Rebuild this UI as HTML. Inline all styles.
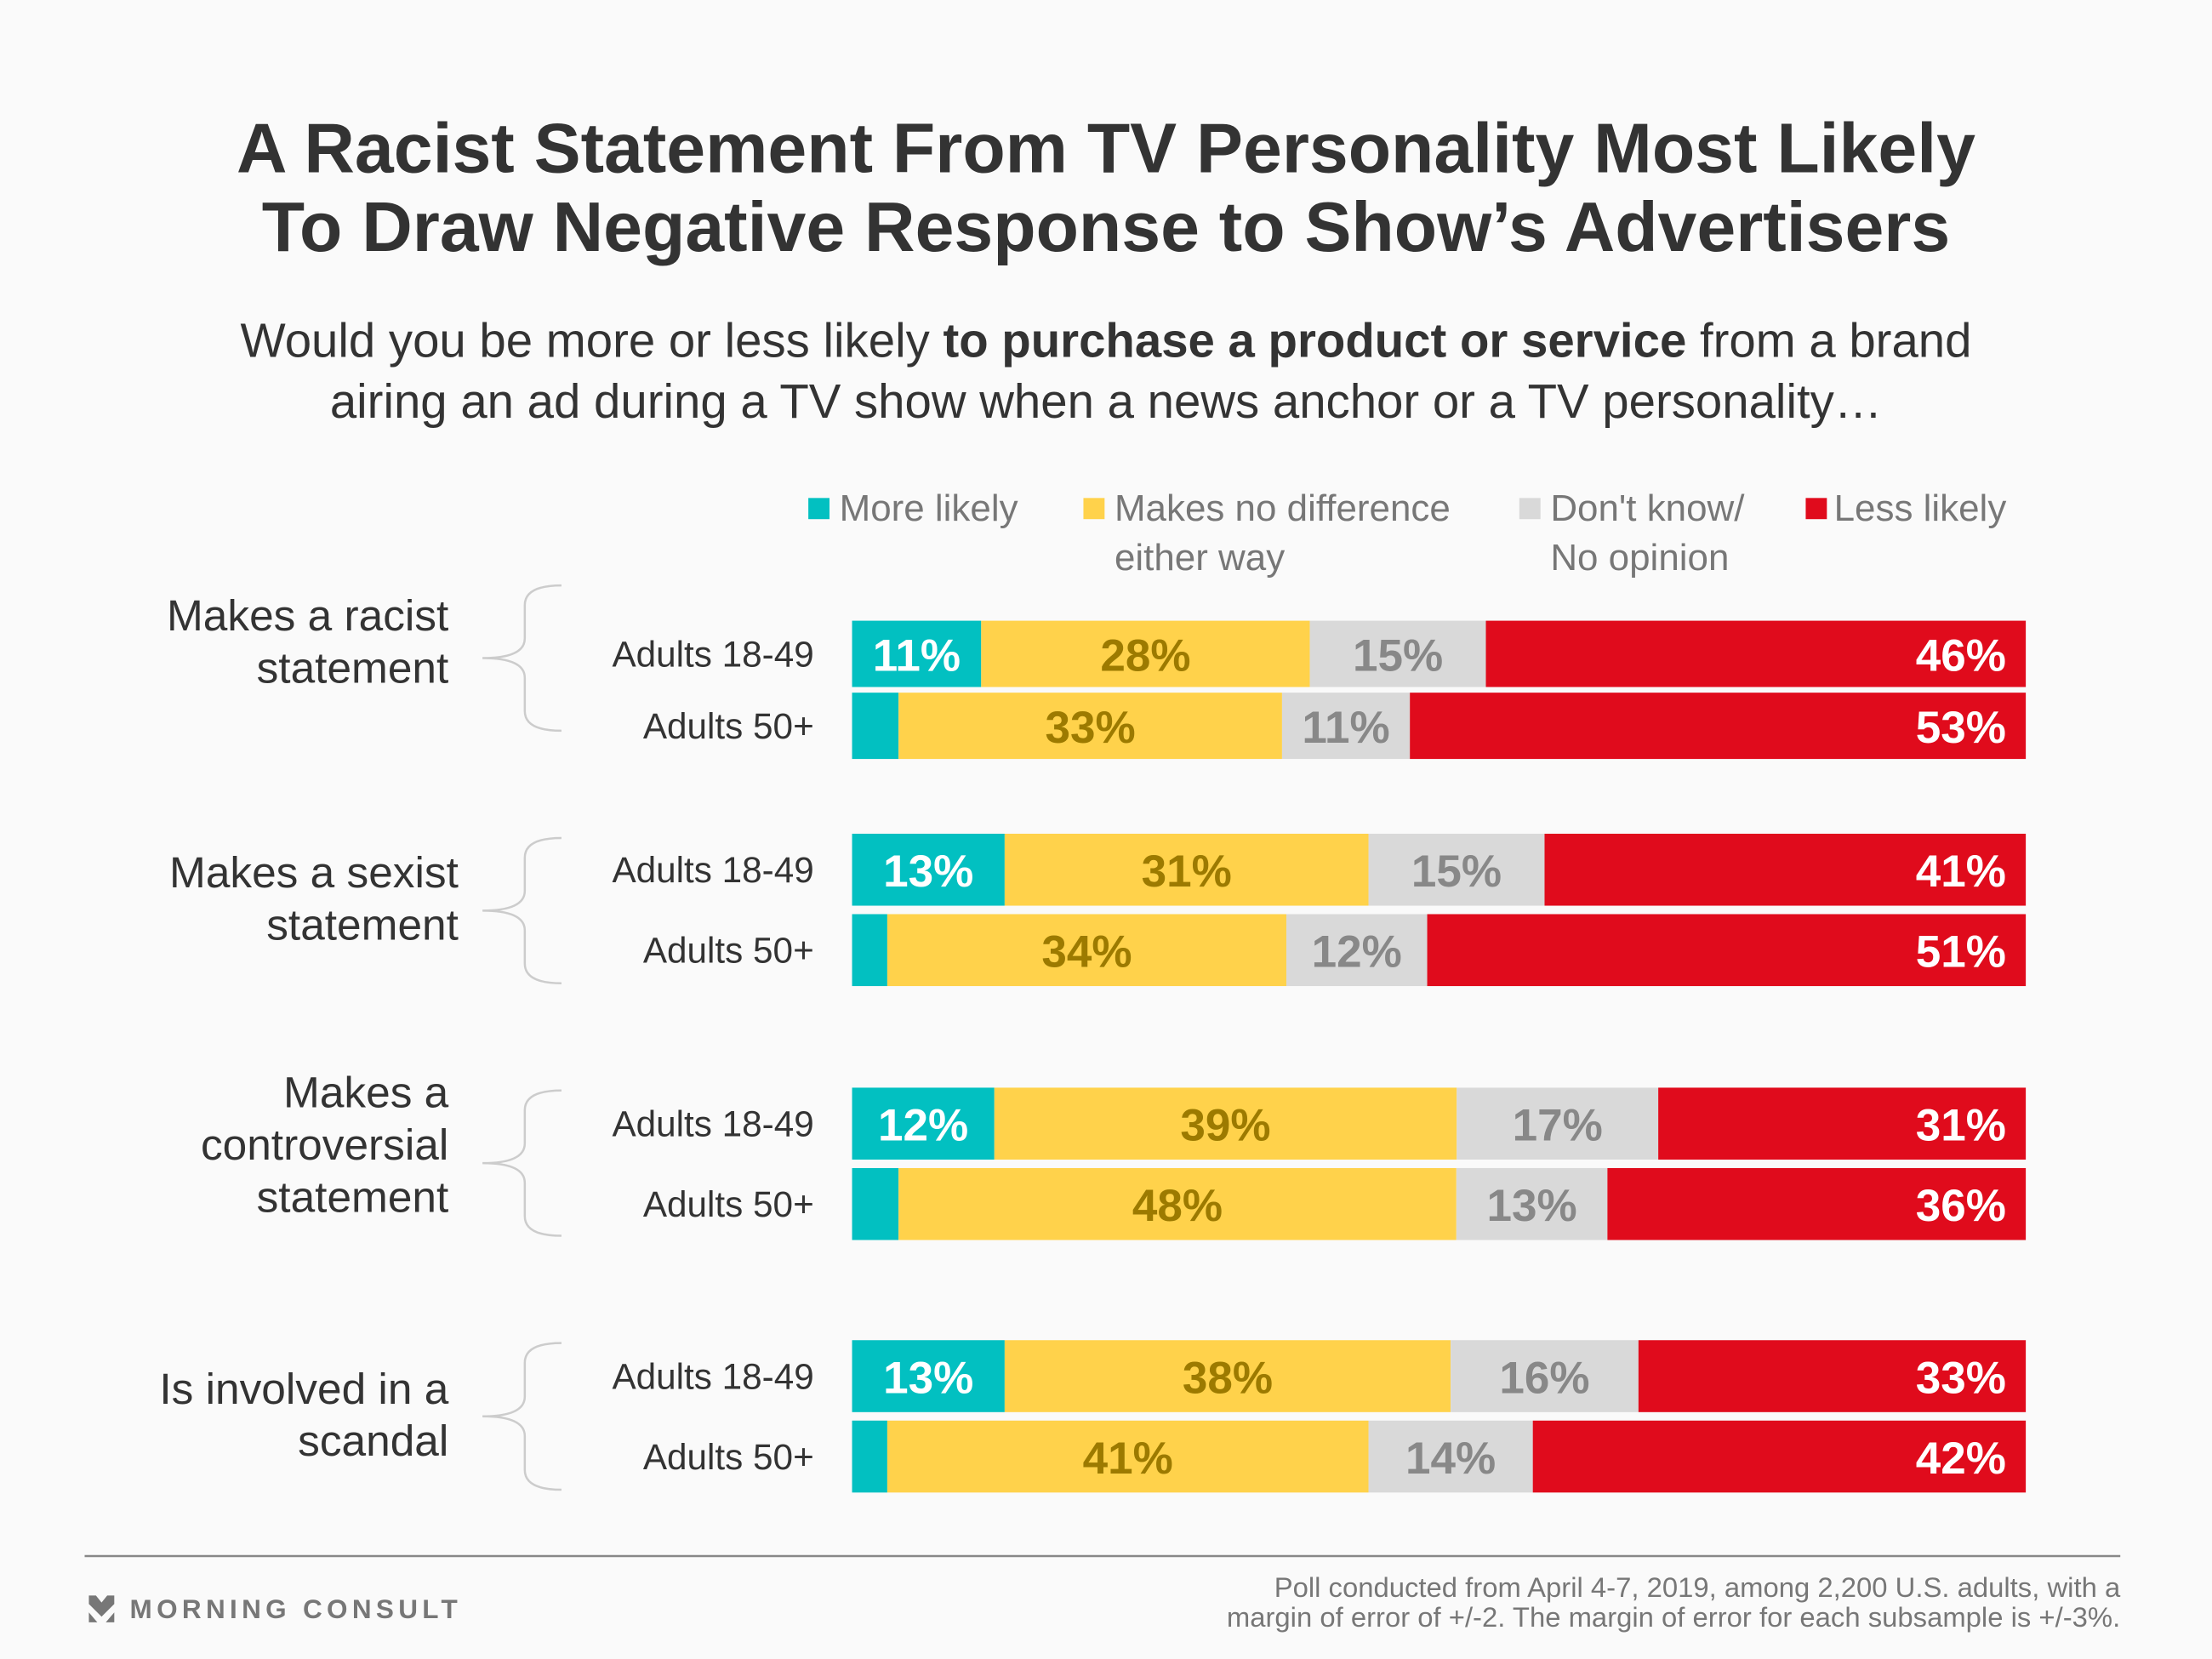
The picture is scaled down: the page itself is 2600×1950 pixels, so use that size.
<!DOCTYPE html>
<html><head><meta charset="utf-8"><style>
html,body{margin:0;padding:0;background:#fafafa;}
svg{display:block;font-family:"Liberation Sans",sans-serif;}
</style></head><body>
<svg id="chart" width="2600" height="1950" viewBox="0 0 1568 1176" xmlns="http://www.w3.org/2000/svg">
<rect width="1568" height="1176" fill="#fafafa"/>
<g font-weight="bold" font-size="49.7" fill="#333" text-anchor="middle">
<text x="784" y="122">A Racist Statement From TV Personality Most Likely</text>
<text x="784" y="178">To Draw Negative Response to Show’s Advertisers</text>
</g>
<g font-size="34" fill="#333" text-anchor="middle">
<text x="784" y="253">Would you be more or less likely <tspan font-weight="bold">to purchase a product or service</tspan> from a brand</text>
<text x="784" y="296">airing an ad during a TV show when a news anchor or a TV personality…</text>
</g>
<g font-size="26.5" fill="#777">
<rect x="573" y="353" width="15" height="15" fill="#02c0c1"/><text x="595" y="369">More likely</text>
<rect x="768" y="353" width="15" height="15" fill="#ffd24b"/><text x="790" y="369">Makes no difference</text><text x="790" y="404">either way</text>
<rect x="1077" y="353" width="15" height="15" fill="#d9d9d9"/><text x="1099" y="369">Don't know/</text><text x="1099" y="404">No opinion</text>
<rect x="1280" y="353" width="15" height="15" fill="#e00b1c"/><text x="1300" y="369">Less likely</text>
</g>
<g id="bars"></g>
<line x1="60" y1="1103" x2="1503" y2="1103" stroke="#888" stroke-width="1.5"/>
<g fill="#777">
<polygon points="63,1131 68,1131 72,1136 76,1131 81,1131 81,1137 72,1146 63,1137"/>
<polygon points="63,1143 69,1150 63,1150"/><polygon points="81,1143 75,1150 81,1150"/>
<text x="92" y="1147" font-size="19" font-weight="bold" letter-spacing="3.2">MORNING CONSULT</text>
</g>
<g font-size="19.8" fill="#777" text-anchor="end">
<text x="1503" y="1132">Poll conducted from April 4-7, 2019, among 2,200 U.S. adults, with a</text>
<text x="1503" y="1153">margin of error of +/-2. The margin of error for each subsample is +/-3%.</text>
</g>
</svg>
<script>
const groups = [["Makes a racist","statement"],["Makes a sexist","statement"],["Makes a","controversial","statement"],["Is involved in a","scandal"]];
const rowLabels = ["Adults 18-49","Adults 50+"];
const moreLikely = [11,4,13,3,12,4,13,3];
const noDifference = [28,33,31,34,39,48,38,41];
const dontKnow = [15,11,15,12,17,13,16,14];
const lessLikely = [46,53,41,51,31,36,33,42];
const showMore = [true,false,true,false,true,false,true,false];

const NS="http://www.w3.org/2000/svg";
const g=document.getElementById('bars');
const X0=604,X1=1436;
const rowTops=[440,491,591,648,771,828,950,1007];
const rowH=[47,47,51,51,51,51,51,51];
const grpLabelX=[318,325,318,318];
const grpLabelY=[[447,484],[629,666],[785,822,859],[995,1032]];
const braceY=[[415,518],[594,697],[773,876],[952,1056]];
function mk(tag,attrs,parent){const e=document.createElementNS(NS,tag);for(const k in attrs)e.setAttribute(k,attrs[k]);(parent||g).appendChild(e);return e;}
const colors=["#02c0c1","#ffd24b","#d9d9d9","#e00b1c"];
const tcol=["#fff","#9c7a00","#888","#fff"];
const names=["more-likely","no-difference","dont-know","less-likely"];
groups.forEach((lines,gi)=>{
  lines.forEach((t,li)=>{const e=mk('text',{x:grpLabelX[gi],y:grpLabelY[gi][li],'font-size':31,fill:'#333','text-anchor':'end'});e.textContent=t;
  
  });
  const [a,b]=braceY[gi];const m=(a+b)/2;
  const br=mk('path',{d:`M 398 ${a} Q 372 ${a} 372 ${a+14} L 372 ${m-14} Q 372 ${m} 342 ${m} Q 372 ${m} 372 ${m+14} L 372 ${b-14} Q 372 ${b} 398 ${b}`,fill:'none',stroke:'#ccc','stroke-width':1.5});
  
  
});
for(let r=0;r<8;r++){
  const vals=[moreLikely[r],noDifference[r],dontKnow[r],lessLikely[r]];
  const sum=vals.reduce((a,b)=>a+b,0);
  const sx=v=>v/sum*(X1-X0);
  const y=rowTops[r],h=rowH[r];
  const lab=mk('text',{x:577,y:y+h/2+9,'font-size':25.5,fill:'#333','text-anchor':'end'});
  lab.textContent=rowLabels[r%2];
  
  
  let x=X0;
  vals.forEach((v,i)=>{
    const w=sx(v);
    const rc=mk('rect',{x:x,y:y,width:w,height:h,fill:colors[i]});
    
    
    if(i>0||showMore[r]){
      const tx=i===3?X1-14:x+w/2;
      const t=mk('text',{x:tx,y:y+h/2+12,'font-size':32,'font-weight':'bold',fill:tcol[i],'text-anchor':i===3?'end':'middle'});
      t.textContent=v+'%';
      
      
    }
    x+=w;
  });
}
</script>
</body></html>
